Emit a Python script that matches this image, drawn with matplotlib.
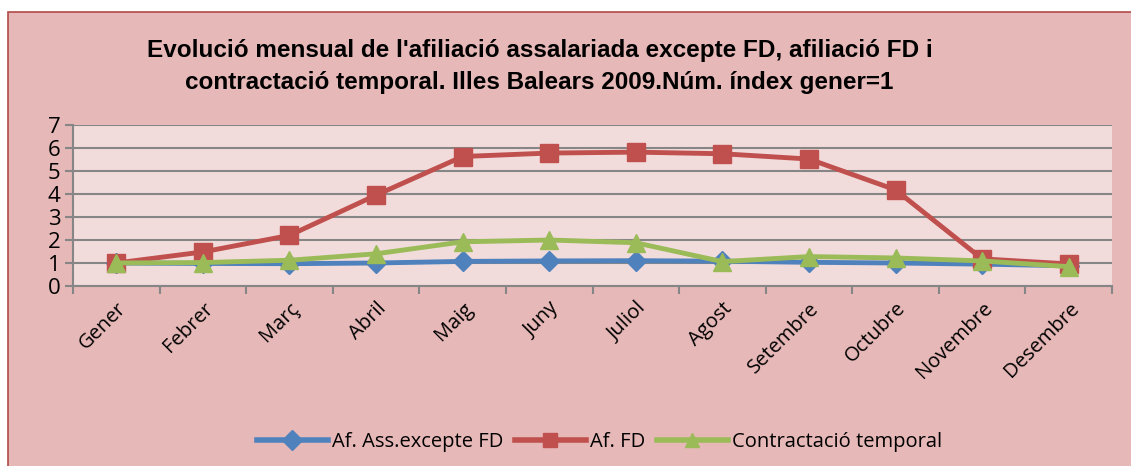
import matplotlib
matplotlib.use('Agg')
from matplotlib import pyplot as plt
from matplotlib.patches import Rectangle
import numpy as np

months = ['Gener', 'Febrer', 'Març', 'Abril', 'Maig', 'Juny', 'Juliol',
          'Agost', 'Setembre', 'Octubre', 'Novembre', 'Desembre']
af_ass = [1.0, 0.98, 0.97, 1.0, 1.07, 1.09, 1.1, 1.08, 1.03, 1.0, 0.95, 0.88]
af_fd = [1.0, 1.48, 2.2, 3.95, 5.63, 5.78, 5.82, 5.75, 5.52, 4.18, 1.18, 0.96]
contr = [1.0, 1.02, 1.12, 1.4, 1.92, 2.0, 1.88, 1.06, 1.28, 1.22, 1.09, 0.84]
labels = ['Af. Ass.excepte FD', 'Af. FD', 'Contractació temporal']
title = ("Evolució mensual de l'afiliació assalariada excepte FD, afiliació FD i\n"
         "contractació temporal. Illes Balears 2009.Núm. índex gener=1")

plt.rcParams['font.family'] = ['Open Sans', 'DejaVu Sans']

W, H = 1131, 466
fig = plt.figure(figsize=(W / 100, H / 100), dpi=100)
fig.patch.set_facecolor('white')
# pink chart frame
fig.patches.append(Rectangle((8 / W, -0.01), 1.0, 1 - 12 / H + 0.01,
                             transform=fig.transFigure, facecolor='#E6B8B7',
                             edgecolor='#B04A47', linewidth=1.2, zorder=-5))

ax = fig.add_axes([73 / W, 1 - 286 / H, (1112 - 73) / W, (286 - 125) / H])
ax.set_zorder(2)
ax.set_facecolor('#F2DCDB')

x = np.arange(len(months))
ax.plot(x, af_ass, color='#4F81BD', lw=3.5, marker='D', ms=10, label=labels[0], zorder=3)
ax.plot(x, af_fd, color='#C0504D', lw=3.5, marker='s', ms=13, label=labels[1], zorder=4)
ax.plot(x, contr, color='#9BBB59', lw=3.5, marker='^', ms=13, label=labels[2], zorder=5)

ax.set_xlim(-0.5, len(months) - 0.5)
ax.set_ylim(0, 7)
ax.set_yticks(range(0, 8))
ax.yaxis.grid(True, color='#868686', lw=1.5)
ax.set_axisbelow(True)
ax.set_xticks(np.arange(-0.5, len(months), 1.0))
ax.set_xticklabels([])
ax.set_xticks(x, minor=True)
ax.set_xticklabels(months, minor=True, rotation=45, ha='right', va='top',
                   rotation_mode='anchor', fontsize=14.5)
ax.tick_params(axis='x', which='minor', length=0, pad=9)
ax.tick_params(axis='x', which='major', length=6, width=1.5, color='#868686', direction='out')
ax.tick_params(axis='y', length=6, width=1.5, color='#868686', labelsize=16, pad=3)
for side in ['top', 'right']:
    ax.spines[side].set_visible(False)
for side in ['left', 'bottom']:
    ax.spines[side].set_color('#868686')
    ax.spines[side].set_linewidth(1.5)

fig.text(0.477, 1 - 67 / H, title, ha='center', va='center', fontsize=17.5,
         fontweight='bold', linespacing=1.5, family=['Liberation Sans', 'DejaVu Sans'])

leg = fig.legend(loc='center', bbox_to_anchor=(0.53, 1 - 442 / H), ncol=3,
                 frameon=False, handlelength=3.5, columnspacing=0.6,
                 handletextpad=0.2, prop={'size': 14.5})
for h in leg.legend_handles:
    h.set_markersize(10)
    h.set_linewidth(4)

fig.savefig('out.png', dpi=100, facecolor=fig.get_facecolor())
